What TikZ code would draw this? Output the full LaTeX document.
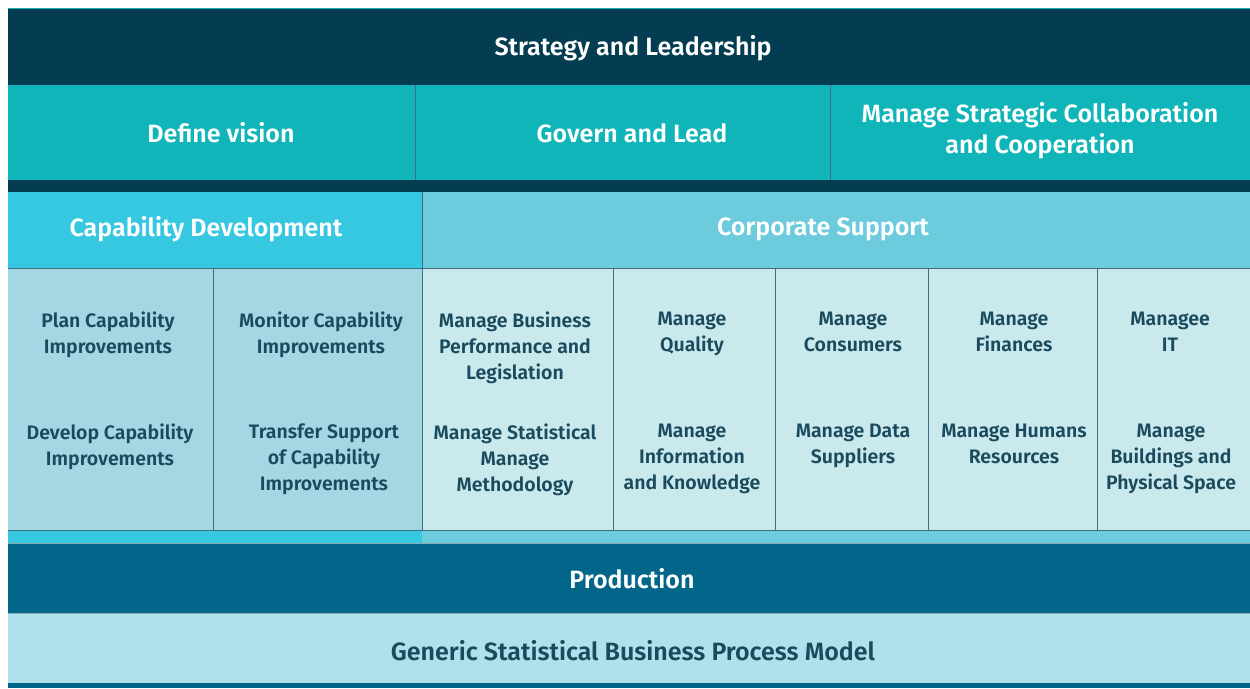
\documentclass[tikz,border=0pt]{standalone}
\usepackage{fontspec}
\setmainfont{Fira Sans}[UprightFont={* Medium},BoldFont={* SemiBold}]
\definecolor{cDark}{HTML}{043D52}
\definecolor{cTeal}{HTML}{0FB5B8}
\definecolor{cCapH}{HTML}{36C7E1}
\definecolor{cCorpH}{HTML}{6CCBDD}
\definecolor{cCapC}{HTML}{A2D7E3}
\definecolor{cCorpC}{HTML}{C9E9EC}
\definecolor{cProd}{HTML}{02668B}
\definecolor{cGsb}{HTML}{AEE1EB}
\definecolor{cText}{HTML}{1A4A5E}
\definecolor{cLine}{HTML}{3E6F80}
\begin{document}
\begin{tikzpicture}[x=1pt,y=-1pt,
  hdr/.style={text=white,font=\fontsize{25}{31}\selectfont\bfseries,align=center,inner sep=0pt},
  cell/.style={text=cText,font=\fontsize{19.5}{26}\selectfont\bfseries,align=center,inner sep=0pt,anchor=north},
  sep/.style={draw=cLine,line width=1pt}]
\useasboundingbox (0,0) rectangle (1250,688);
\fill[white] (0,0) rectangle (1250,688);
% bands
\fill[cDark] (8,8) rectangle (1250,85);
\draw[cTeal,line width=1pt] (8,8.5) -- (1250,8.5);
\fill[cTeal] (8,85) rectangle (1250,180);
\fill[cDark] (8,180) rectangle (1250,192);
\fill[cCapH] (8,192) rectangle (422,268);
\fill[cCorpH] (422,192) rectangle (1250,268);
\fill[cCapC] (8,268) rectangle (422,530);
\fill[cCorpC] (422,268) rectangle (1250,530);
\fill[cCapH] (8,530) rectangle (422,543);
\fill[cCorpH] (422,530) rectangle (1250,543);
\fill[cProd] (8,543) rectangle (1250,613);
\fill[cGsb] (8,613) rectangle (1250,683);
\fill[cProd] (8,683) rectangle (1250,688);
% separators
\draw[sep] (415,85) -- (415,180);
\draw[sep] (830,85) -- (830,180);
\draw[sep] (422,192) -- (422,530);
\draw[sep] (8,268) -- (1250,268);
\draw[sep] (8,530) -- (1250,530);
\foreach \xx in {213,613,775,928,1097} \draw[sep] (\xx,268) -- (\xx,530);
\draw[cLine!60,line width=0.8pt] (8,543) -- (1250,543);
\draw[cLine!60,line width=0.8pt] (8,613) -- (1250,613);
% header texts
\node[hdr] (sl) at (633,48) {Strategy and Leadership};
\node[hdr] (dv) at (221,133) {Define vision};
\node[hdr] (gl) at (632,133) {Govern and Lead};
\node[hdr] (msc) at (1040,131) {Manage Strategic Collaboration\\and Cooperation};
\node[hdr] (cd) at (206,229) {Capability Development};
\node[hdr] (cs) at (823,229) {Corporate Support};
\node[hdr] (prod) at (632,579) {Production};
\node[hdr,text=cText] (gsbpm) at (633,651) {Generic Statistical Business Process Model};
% cells
\node[cell] (c1a) at (108,312) {Plan Capability\\Improvements};
\node[cell] (c1b) at (110,424) {Develop Capability\\Improvements};
\node[cell] (c2a) at (321,312) {Monitor Capability\\Improvements};
\node[cell] (c2b) at (324,424) {Transfer Support\\of Capability\\Improvements};
\node[cell] (c3a) at (515,312) {Manage Business\\Performance and\\Legislation};
\node[cell] (c3b) at (515,424) {Manage Statistical\\Manage\\Methodology};
\node[cell] (c4a) at (692,312) {Manage\\Quality};
\node[cell] (c4b) at (692,424) {Manage\\Information\\and Knowledge};
\node[cell] (c5a) at (853,312) {Manage\\Consumers};
\node[cell] (c5b) at (853,424) {Manage Data\\Suppliers};
\node[cell] (c6a) at (1014,312) {Manage\\Finances};
\node[cell] (c6b) at (1014,424) {Manage Humans\\Resources};
\node[cell] (c7a) at (1170,312) {Managee\\IT};
\node[cell] (c7b) at (1171,424) {Manage\\Buildings and\\Physical Space};
\end{tikzpicture}
\end{document}
